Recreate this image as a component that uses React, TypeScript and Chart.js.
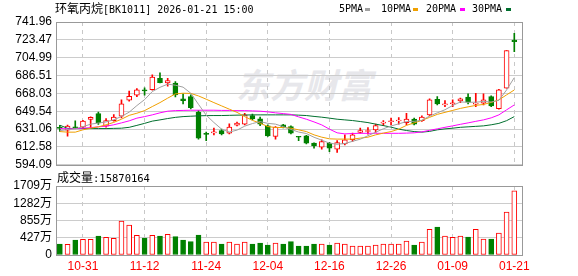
import React, { useEffect, useRef } from "react";
import { Chart, registerables } from "chart.js";

Chart.register(...registerables);

const RED = "#ff0000";
const GREEN = "#008000";

const dateLabels = ["10-31", "11-12", "11-24", "12-04", "12-16", "12-26", "01-09", "01-21"];
const dateTickIndex = [3, 11, 19, 27, 35, 43, 51, 59];

const priceTicks = [594.09, 612.58, 631.06, 649.54, 668.03, 686.51, 704.99, 723.47, 741.96];
const volTicks = [0, 427.25, 854.5, 1281.75, 1709];
const volTickLabels = ["0", "427万", "855万", "1282万", "1709万"];
const lastVolume = 15870164;

const opens = [632.9,630.0,633.5,633.1,641.1,647.1,634.1,639.9,644.4,661.0,666.2,671.6,672.0,683.7,678.9,678.6,662.3,664.7,648.6,626.7,627.2,629.5,626.9,635.1,636.2,645.1,641.7,634.4,623.4,635.5,633.7,623.6,624.1,616.5,612.4,616.5,610.3,615.8,620.0,627.5,628.6,630.3,637.2,638.7,639.4,637.8,641.4,639.9,645.8,662.0,656.2,657.3,660.3,664.1,656.9,657.9,664.7,652.3,673.4,723.3];
const highs = [634.9,635.1,639.6,640.1,643.7,648.6,642.0,646.1,661.3,670.3,673.0,673.7,687.2,689.2,683.7,680.2,667.5,666.5,650.2,627.9,632.0,631.0,636.5,638.2,647.5,646.5,643.4,635.5,633.7,636.0,634.4,623.6,624.6,616.8,620.0,617.4,619.2,625.1,626.9,632.0,632.6,636.2,639.9,642.4,643.0,647.5,642.4,644.8,662.3,664.7,660.6,661.3,663.1,667.5,668.0,667.5,665.4,672.2,712.3,730.3];
const lows = [628.7,623.8,631.6,632.3,632.3,635.8,633.1,639.3,642.7,660.0,664.7,666.2,671.3,678.9,675.5,664.4,657.2,652.0,620.7,619.2,625.1,625.1,626.1,634.4,635.5,640.6,634.7,623.4,620.7,632.3,626.1,619.2,615.8,611.4,610.3,607.8,606.8,614.8,618.2,626.9,625.8,627.5,634.7,635.5,636.2,635.5,635.5,638.9,644.8,656.1,654.4,654.4,658.5,657.2,654.4,656.1,654.4,651.7,673.4,711.2];
const closes = [631.8,634.1,632.5,639.3,643.2,637.5,639.9,643.4,657.2,665.1,671.6,670.6,684.8,679.2,681.3,666.5,660.6,653.3,621.7,625.6,628.2,626.1,633.1,637.2,645.8,641.7,636.2,624.1,633.1,633.1,626.9,622.6,616.5,613.7,618.2,611.4,617.1,620.0,625.1,629.5,629.6,634.7,638.2,639.7,640.4,641.4,636.2,643.4,661.3,657.2,657.2,658.3,662.3,658.9,657.9,661.3,655.1,671.6,712.3,721.6];

const ma5 = [629.5,630.5,631.5,633.5,636.2,637.3,638.5,640.7,644.2,648.6,655.4,661.6,669.9,674.3,677.6,676.5,674.5,668.2,656.7,645.5,637.9,631.0,628.0,630.0,634.1,636.8,638.8,637.0,636.2,633.6,630.7,628.0,626.5,622.6,619.6,616.5,615.4,616.1,618.4,620.6,624.2,627.8,631.4,634.3,636.5,638.8,639.1,640.2,644.5,647.9,651.1,655.5,659.2,658.8,658.9,659.7,659.1,660.9,671.6,684.4];
const ma10 = [628.5,627.9,627.9,630.3,632.0,633.4,635.5,638.0,641.3,645.3,647.5,650.2,654.4,658.5,663.1,667.5,668.2,668.0,665.4,662.0,658.5,655.1,651.7,648.4,644.0,640.1,637.2,633.7,632.7,632.7,632.0,630.3,628.5,625.1,622.7,621.0,620.7,620.7,620.7,621.7,622.7,625.1,626.9,628.5,631.0,634.9,637.5,640.1,643.2,646.3,648.4,650.4,652.5,654.1,655.6,656.6,658.7,661.3,666.5,671.6];
const ma20 = [631.6,631.3,631.5,632.0,632.6,633.4,634.1,635.5,637.5,639.6,642.4,644.0,645.8,647.9,649.6,650.2,650.4,650.6,650.6,650.6,650.6,650.4,650.4,650.2,650.2,649.9,649.6,648.9,647.9,647.1,646.3,643.7,641.3,638.5,635.4,631.0,627.2,626.1,626.5,626.7,626.7,626.7,626.7,626.7,626.7,626.9,627.2,628.2,629.8,631.3,632.9,634.4,636.0,637.5,639.1,640.6,642.7,645.8,651.0,656.1];
const ma30 = [635.1,631.8,631.6,631.6,631.6,631.6,631.6,631.8,632.0,632.9,634.9,637.0,639.3,640.6,642.0,643.2,644.0,644.4,644.8,645.0,645.1,645.1,645.3,645.5,645.6,645.8,645.8,645.8,645.8,645.8,645.8,645.5,645.1,644.2,643.4,642.4,641.3,640.6,639.9,638.9,637.8,636.2,634.7,633.1,631.0,629.6,628.5,627.9,628.7,630.3,631.3,632.0,632.9,633.4,633.9,634.4,635.5,637.0,639.8,644.0];

// volume in 万
const volumes = [272,264,372,388,388,471,438,413,842,743,487,421,487,471,512,454,372,330,495,322,322,272,322,272,322,272,297,248,297,272,330,223,223,272,272,248,297,272,223,223,223,248,272,272,272,347,248,322,636,694,471,438,471,446,636,396,396,545,1065,1587.0164];
// 1 = red (up) volume bar, 0 = green
const volUp = [0,1,0,1,1,0,1,1,1,1,1,0,1,0,1,0,0,0,0,1,1,0,1,1,1,0,0,0,1,0,0,0,0,0,1,0,1,1,1,1,1,1,1,1,1,1,0,1,1,0,1,1,1,0,1,1,0,1,1,1];

const maSeries = [
  { name: "5PMA", values: ma5, color: "#a0a0a0" },
  { name: "10PMA", values: ma10, color: "#f0a000" },
  { name: "20PMA", values: ma20, color: "#ff00ff" },
  { name: "30PMA", values: ma30, color: "#006f2e" },
];

const framePlugin = {
  id: "frame",
  afterDraw(chart: any) {
    const { ctx, chartArea: a } = chart;
    ctx.save();
    ctx.strokeStyle = "#999999";
    ctx.lineWidth = 1;
    ctx.setLineDash([]);
    ctx.strokeRect(Math.round(a.left) + 0.5, Math.round(a.top) + 0.5, Math.round(a.right - a.left), Math.round(a.bottom - a.top));
    ctx.restore();
  },
};

function xScale(showLabels: boolean): any {
  return {
    type: "linear",
    min: -0.5,
    max: 60,
    offset: false,
    afterBuildTicks: (s: any) => {
      s.ticks = dateTickIndex.map((v) => ({ value: v }));
    },
    afterFit: (s: any) => {
      s.height = showLabels ? 21 : 0;
    },
    ticks: {
      display: showLabels,
      autoSkip: false,
      maxRotation: 0,
      padding: 4,
      color: RED,
      font: { family: "'Liberation Sans', Arial, sans-serif", size: 12 },
      callback: (_v: any, i: number) => dateLabels[i],
    },
    grid: { offset: false, color: "#c8c8c8", drawTicks: false, lineWidth: 1 },
    border: { display: false, dash: [4, 4] },
  };
}

function yScale(ticks: number[], labels: string[], cjk: boolean): any {
  return {
    type: "linear",
    min: ticks[0],
    max: ticks[ticks.length - 1],
    afterBuildTicks: (s: any) => {
      s.ticks = ticks.map((v) => ({ value: v }));
    },
    afterFit: (s: any) => {
      s.width = 56;
    },
    ticks: {
      autoSkip: false,
      padding: 4,
      color: "#000000",
      font: {
        family: cjk ? "'Liberation Sans', 'Noto Sans CJK SC', sans-serif" : "'Liberation Sans', Arial, sans-serif",
        size: 12,
      },
      callback: (_v: any, i: number) => labels[i],
    },
    grid: { color: "#cccccc", drawTicks: false },
    border: { display: false },
  };
}

export default function App() {
  const priceRef = useRef<HTMLCanvasElement>(null);
  const volRef = useRef<HTMLCanvasElement>(null);

  useEffect(() => {
    const idx = opens.map((_, i) => i);
    const up = idx.map((i) => closes[i] > opens[i]);

    const priceChart = new Chart(priceRef.current as HTMLCanvasElement, {
      type: "bar",
      data: {
        datasets: [
          ...maSeries.map((m) => ({
            type: "line" as const,
            label: m.name,
            data: m.values.map((v, i) => ({ x: i, y: v })),
            borderColor: m.color,
            borderWidth: 1,
            pointRadius: 0,
            tension: 0,
            order: 0,
          })),
          {
            type: "bar" as const,
            label: "body",
            data: idx.map((i) => ({ x: i, y: [opens[i], closes[i]] })) as any,
            backgroundColor: idx.map((i) => (up[i] ? "#ffffff" : GREEN)),
            borderColor: idx.map((i) => (up[i] ? RED : GREEN)),
            borderWidth: 1,
            borderSkipped: false,
            barThickness: 5,
            grouped: false,
            order: 1,
          },
          {
            type: "bar" as const,
            label: "wick",
            data: idx.map((i) => ({ x: i, y: [lows[i], highs[i]] })) as any,
            backgroundColor: idx.map((i) => (up[i] ? RED : GREEN)),
            borderWidth: 0,
            barThickness: 1,
            grouped: false,
            order: 2,
          },
        ],
      },
      options: {
        responsive: false,
        animation: false,
        devicePixelRatio: 1,
        layout: { padding: { left: 0, right: 56, top: 22, bottom: 11 } },
        plugins: { legend: { display: false }, tooltip: { enabled: false } },
        scales: {
          x: xScale(false),
          y: yScale(priceTicks, priceTicks.map((v) => v.toFixed(2)), false),
        },
      } as any,
      plugins: [framePlugin],
    });

    const volChart = new Chart(volRef.current as HTMLCanvasElement, {
      type: "bar",
      data: {
        datasets: [
          {
            label: "volume",
            data: volumes.map((v, i) => ({ x: i, y: v })) as any,
            backgroundColor: volUp.map((u) => (u ? "#ffffff" : GREEN)),
            borderColor: volUp.map((u) => (u ? RED : GREEN)),
            borderWidth: 1,
            borderSkipped: false,
            barThickness: 5,
            grouped: false,
          },
        ],
      },
      options: {
        responsive: false,
        animation: false,
        devicePixelRatio: 1,
        layout: { padding: { left: 0, right: 56, top: 16, bottom: 0 } },
        plugins: { legend: { display: false }, tooltip: { enabled: false } },
        scales: {
          x: xScale(true),
          y: yScale(volTicks, volTickLabels, true),
        },
      } as any,
      plugins: [framePlugin],
    });

    return () => {
      priceChart.destroy();
      volChart.destroy();
    };
  }, []);

  const mono = "'DejaVu Sans Mono', monospace";
  const cjk = "'Noto Sans CJK SC', sans-serif";
  const legendPos = [
    { text: 339, mark: 365 },
    { text: 381, mark: 413 },
    { text: 426, mark: 460 },
    { text: 472, mark: 506 },
  ];

  return (
    <div style={{ position: "fixed", left: 0, top: 0, width: 578, height: 276, background: "#ffffff", overflow: "hidden" }}>
      <div
        style={{
          position: "absolute",
          left: 236,
          top: 62,
          fontFamily: cjk,
          fontSize: 34,
          fontWeight: 700,
          fontStyle: "italic",
          color: "#e7e7eb",
          lineHeight: "44px",
          whiteSpace: "nowrap",
        }}
      >
        东方财富
      </div>
      <canvas ref={priceRef} width={578} height={176} style={{ position: "absolute", left: 0, top: 0, width: 578, height: 176 }} />
      <canvas ref={volRef} width={578} height={106} style={{ position: "absolute", left: 0, top: 170, width: 578, height: 106 }} />
      <div style={{ position: "absolute", left: 55, top: 0, height: 16, lineHeight: "16px", whiteSpace: "pre", color: "#000" }}>
        <span style={{ fontFamily: cjk, fontSize: 12 }}>环氧丙烷</span>
        <span style={{ fontFamily: mono, fontSize: 10 }}>[BK1011] 2026-01-21 15:00</span>
      </div>
      {maSeries.map((m, i) => (
        <React.Fragment key={m.name}>
          <div style={{ position: "absolute", left: legendPos[i].text, top: 0, lineHeight: "17px", fontFamily: mono, fontSize: 10, color: "#000" }}>{m.name}</div>
          <div style={{ position: "absolute", left: legendPos[i].mark, top: 8, width: 5, height: 3, background: m.color }} />
        </React.Fragment>
      ))}
      <div style={{ position: "absolute", left: 57, top: 169, height: 16, lineHeight: "16px", whiteSpace: "pre", color: "#000" }}>
        <span style={{ fontFamily: cjk, fontSize: 12 }}>成交量</span>
        <span style={{ fontFamily: mono, fontSize: 10.5 }}>:{lastVolume}</span>
      </div>
    </div>
  );
}
